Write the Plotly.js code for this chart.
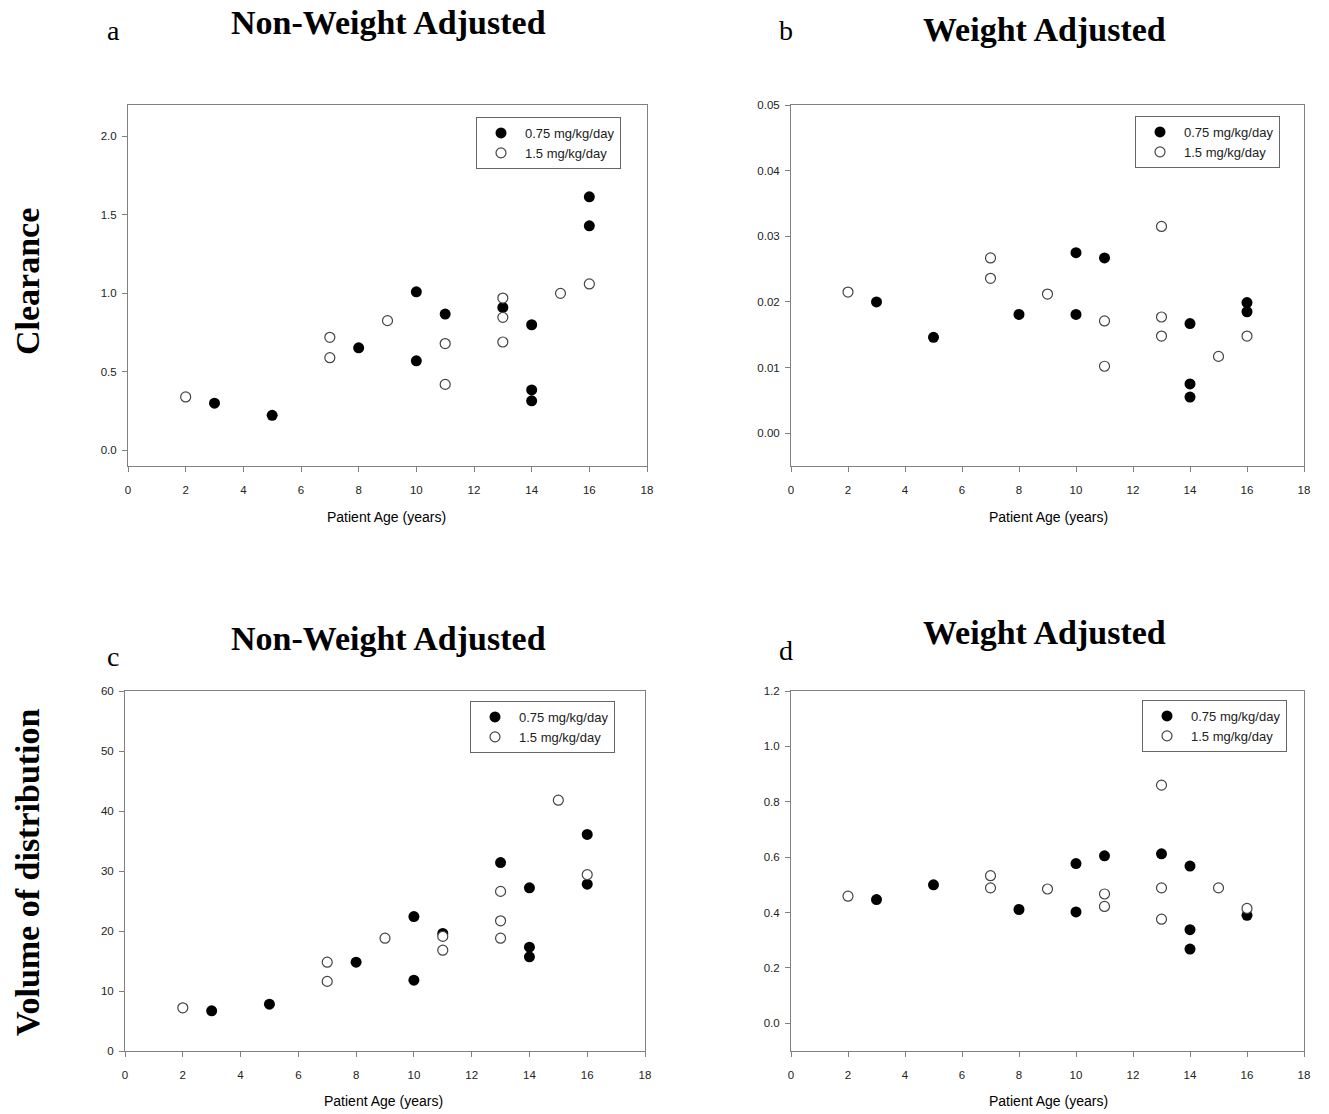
<!DOCTYPE html>
<html>
<head>
<meta charset="utf-8">
<script src="https://cdn.plot.ly/plotly-3.0.1.min.js"></script>
<style>html,body{margin:0;padding:0;background:#fff;}#chart{width:1329px;height:1114px;}</style>
</head>
<body>
<div id="chart"></div>
<script>
// ---- Data ----
const seriesNames = ["0.75 mg/kg/day", "1.5 mg/kg/day"];

// Panel a: Clearance, non-weight adjusted
const ageLowA = [3, 5, 8, 10, 10, 11, 13, 14, 14, 14, 16, 16];
const clearanceLowA = [0.30, 0.223, 0.653, 1.01, 0.57, 0.868, 0.91, 0.80, 0.385, 0.315, 1.615, 1.43];
const ageHighA = [2, 7, 7, 9, 11, 11, 13, 13, 13, 15, 16];
const clearanceHighA = [0.34, 0.72, 0.59, 0.826, 0.68, 0.42, 0.97, 0.847, 0.69, 1.0, 1.06];

// Panel b: Clearance, weight adjusted
const ageLowB = [3, 5, 8, 10, 10, 11, 14, 14, 14, 16, 16];
const clearanceLowB = [0.0200, 0.0146, 0.0181, 0.0275, 0.0181, 0.0267, 0.0167, 0.0075, 0.0055, 0.0199, 0.0185];
const ageHighB = [2, 7, 7, 9, 11, 11, 13, 13, 13, 15, 16];
const clearanceHighB = [0.0215, 0.0267, 0.0236, 0.0212, 0.0171, 0.0102, 0.0315, 0.0177, 0.0148, 0.0117, 0.0148];

// Panel c: Volume of distribution, non-weight adjusted
const ageLowC = [3, 5, 8, 10, 10, 11, 13, 14, 14, 14, 16, 16];
const volumeLowC = [6.7, 7.8, 14.8, 22.4, 11.8, 19.6, 31.4, 27.2, 17.3, 15.7, 36.1, 27.8];
const ageHighC = [2, 7, 7, 9, 11, 11, 13, 13, 13, 15, 16];
const volumeHighC = [7.2, 14.8, 11.6, 18.8, 19.1, 16.8, 26.6, 21.7, 18.8, 41.8, 29.4];

// Panel d: Volume of distribution, weight adjusted
const ageLowD = [3, 5, 8, 10, 10, 11, 13, 14, 14, 14, 16];
const volumeLowD = [0.447, 0.500, 0.411, 0.577, 0.402, 0.605, 0.612, 0.568, 0.338, 0.268, 0.390];
const ageHighD = [2, 7, 7, 9, 11, 11, 13, 13, 13, 15, 16];
const volumeHighD = [0.459, 0.533, 0.489, 0.485, 0.467, 0.422, 0.860, 0.489, 0.376, 0.489, 0.415];

const xTickVals = [0, 2, 4, 6, 8, 10, 12, 14, 16, 18];
const yTicksA = [0, 0.5, 1.0, 1.5, 2.0];
const yTicksB = [0, 0.01, 0.02, 0.03, 0.04, 0.05];
const yTicksC = [0, 10, 20, 30, 40, 50, 60];
const yTicksD = [0, 0.2, 0.4, 0.6, 0.8, 1.0, 1.2];

// ---- Styles ----
const W = 1329, H = 1114;
const sansFont = "Liberation Sans, Arial, sans-serif";
const serifFont = "Liberation Serif, Times New Roman, serif";

function filled(x, y, xa, ya, leg) {
  return {x: x, y: y, xaxis: xa, yaxis: ya, type: 'scatter', mode: 'markers',
    name: seriesNames[0], legend: leg, showlegend: true,
    marker: {symbol: 'circle', size: 11, color: '#000', line: {width: 0}}};
}
function open(x, y, xa, ya, leg) {
  return {x: x, y: y, xaxis: xa, yaxis: ya, type: 'scatter', mode: 'markers',
    name: seriesNames[1], legend: leg, showlegend: true,
    marker: {symbol: 'circle', size: 10, color: '#fff', line: {width: 1.2, color: '#444'}}};
}

const data = [
  filled(ageLowA, clearanceLowA, 'x', 'y', 'legend'),
  open(ageHighA, clearanceHighA, 'x', 'y', 'legend'),
  filled(ageLowB, clearanceLowB, 'x2', 'y2', 'legend2'),
  open(ageHighB, clearanceHighB, 'x2', 'y2', 'legend2'),
  filled(ageLowC, volumeLowC, 'x3', 'y3', 'legend3'),
  open(ageHighC, volumeHighC, 'x3', 'y3', 'legend3'),
  filled(ageLowD, volumeLowD, 'x4', 'y4', 'legend4'),
  open(ageHighD, volumeHighD, 'x4', 'y4', 'legend4')
];

function px(v) { return v / W; }
function py(v) { return 1 - v / H; }

function xAxis(l, r, anchor) {
  return {domain: [px(l), px(r)], anchor: anchor, range: [0, 18], tickvals: xTickVals,
    ticktext: xTickVals.map(String),
    showline: true, linecolor: '#808080', linewidth: 1, mirror: true,
    ticks: 'outside', ticklen: 5, tickcolor: '#808080', ticklabelstandoff: 8,
    showgrid: false, zeroline: false,
    tickfont: {family: sansFont, size: 11.5, color: '#222'}};
}
function yAxis(top, bottom, anchor, range, vals, fmt) {
  return {domain: [py(bottom), py(top)], anchor: anchor, range: range, tickvals: vals,
    ticktext: vals.map(v => v.toFixed(fmt)),
    showline: true, linecolor: '#808080', linewidth: 1, mirror: true,
    ticks: 'outside', ticklen: 5, tickcolor: '#808080', ticklabelstandoff: 3,
    showgrid: false, zeroline: false,
    tickfont: {family: sansFont, size: 11.5, color: '#222'}};
}
function legendAt(l, t) {
  return {x: px(l), y: py(t), xanchor: 'left', yanchor: 'top', bgcolor: '#fff',
    bordercolor: '#666', borderwidth: 1, tracegroupgap: 0, itemwidth: 38,
    font: {family: sansFont, size: 13, color: '#222'}};
}

function ann(text, x, y, size, bold, family, rot) {
  return {text: bold ? '<b>' + text + '</b>' : text, xref: 'paper', yref: 'paper',
    x: px(x), y: py(y), xanchor: 'center', yanchor: 'middle', showarrow: false,
    textangle: rot || 0, font: {family: family, size: size, color: '#000'}};
}

const layout = {
  width: W, height: H, margin: {l: 0, r: 0, t: 0, b: 0},
  paper_bgcolor: '#fff', plot_bgcolor: '#fff',
  xaxis: xAxis(128, 647, 'y'),
  yaxis: yAxis(105, 466, 'x', [-0.1, 2.2], yTicksA, 1),
  xaxis2: xAxis(791, 1304, 'y2'),
  yaxis2: yAxis(105, 466, 'x2', [-0.005, 0.05], yTicksB, 2),
  xaxis3: xAxis(125, 645, 'y3'),
  yaxis3: yAxis(691, 1051, 'x3', [0, 60], yTicksC, 0),
  xaxis4: xAxis(791, 1304, 'y4'),
  yaxis4: yAxis(691, 1051, 'x4', [-0.1, 1.2], yTicksD, 1),
  legend: legendAt(476, 117),
  legend2: legendAt(1135, 116),
  legend3: legendAt(470, 701),
  legend4: legendAt(1142, 700),
  annotations: [
    ann('Non-Weight Adjusted', 388, 22, 34, true, serifFont),
    ann('Weight Adjusted', 1044, 30, 34, true, serifFont),
    ann('Non-Weight Adjusted', 388, 638, 34, true, serifFont),
    ann('Weight Adjusted', 1044, 632, 34, true, serifFont),
    ann('a', 113, 31, 28, false, serifFont),
    ann('b', 786, 31, 28, false, serifFont),
    ann('c', 113, 656, 28, false, serifFont),
    ann('d', 786, 650, 28, false, serifFont),
    ann('Clearance', 27, 282, 34, true, serifFont, -90),
    ann('Volume of distribution', 27, 872, 34, true, serifFont, -90),
    ann('Patient Age (years)', 386, 517, 14, false, sansFont),
    ann('Patient Age (years)', 1048, 517, 14, false, sansFont),
    ann('Patient Age (years)', 384, 1101, 14, false, sansFont),
    ann('Patient Age (years)', 1048, 1101, 14, false, sansFont)
  ]
};

Plotly.newPlot('chart', data, layout, {staticPlot: true, displayModeBar: false});
</script>
</body>
</html>
